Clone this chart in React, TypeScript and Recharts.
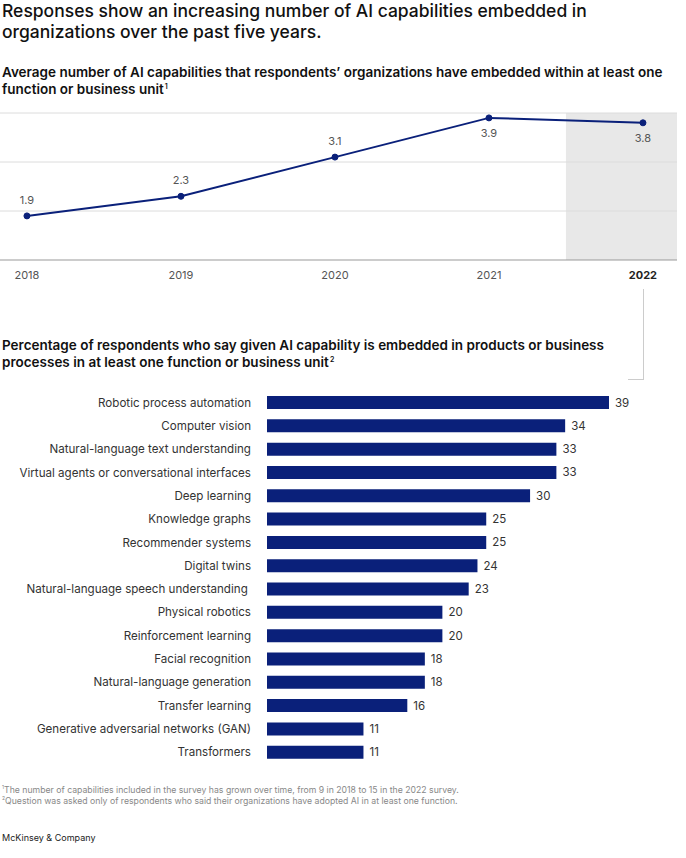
import React from "react";
import {
  LineChart, Line, XAxis, YAxis, ReferenceArea, ReferenceLine, LabelList,
  BarChart, Bar,
} from "recharts";

const years = [2018, 2019, 2020, 2021, 2022];
const avgCapabilities = [1.9, 2.3, 3.1, 3.9, 3.8];
const yGridValues = [2, 3, 4];

const capabilities = [
  "Robotic process automation",
  "Computer vision",
  "Natural-language text understanding",
  "Virtual agents or conversational interfaces",
  "Deep learning",
  "Knowledge graphs",
  "Recommender systems",
  "Digital twins",
  "Natural-language speech understanding ",
  "Physical robotics",
  "Reinforcement learning",
  "Facial recognition",
  "Natural-language generation",
  "Transfer learning",
  "Generative adversarial networks (GAN)",
  "Transformers",
];
const capabilityShares = [39, 34, 33, 33, 30, 25, 25, 24, 23, 20, 20, 18, 18, 16, 11, 11];

const lineData = years.map((y, i) => ({ year: y, value: avgCapabilities[i] }));
const barData = capabilities.map((c, i) => ({ name: c, value: capabilityShares[i] }));

const FONT = "Inter, 'Liberation Sans', Arial, sans-serif";
const NAVY = "#0a207a";

const YearTick = (props: any) => {
  const { x, y, payload } = props;
  const bold = payload.value === 2022;
  return (
    <text x={x} y={y + 11} textAnchor="middle" fontFamily={FONT} fontSize={11}
      fontWeight={bold ? 700 : 400} fill={bold ? "#222" : "#555"}>
      {payload.value}
    </text>
  );
};

const PointLabel = (props: any) => {
  const { x, y, value, index } = props;
  const below = index >= 3;
  return (
    <text x={x} y={below ? y + 19 : y - 12} textAnchor="middle" fontFamily={FONT}
      fontSize={11} fill="#555">
      {Number(value).toFixed(1)}
    </text>
  );
};

const CatTick = (props: any) => {
  const { x, y, payload } = props;
  return (
    <text x={x - 8} y={y + 4} textAnchor="end" fontFamily={FONT} fontSize={11.6} fill="#333"
      style={{ whiteSpace: "pre" }}>
      {payload.value}
    </text>
  );
};

const ValueLabel = (props: any) => {
  const { x, y, width, height, value } = props;
  return (
    <text x={x + width + 6} y={y + height / 2 + 4} fontFamily={FONT} fontSize={11.5} fill="#333">
      {value}
    </text>
  );
};

const supStyle = { fontSize: 7, marginLeft: 1, lineHeight: 0 } as const;

export default function App() {
  return (
    <div style={{ position: "absolute", left: 0, top: 0, width: 686, height: 858, background: "#fff", fontFamily: FONT }}>
      <div style={{ position: "absolute", left: 2, top: 0, width: 640, fontSize: 17.5, fontWeight: 500, lineHeight: "21px", color: "#111" }}>
        Responses show an increasing number of AI capabilities embedded in organizations over the past five years.
      </div>
      <div style={{ position: "absolute", left: 2, top: 64, width: 680, fontSize: 13.5, fontWeight: 600, lineHeight: "17px", color: "#111" }}>
        Average number of AI capabilities that respondents’ organizations have embedded within at least one function or business unit<sup style={supStyle}>1</sup>
      </div>

      <div style={{ position: "absolute", left: 0, top: 100 }}>
        <LineChart width={686} height={190} data={lineData} margin={{ top: 13, right: 9, left: 0, bottom: 0 }}>
          <ReferenceArea x1={2021.5} x2={2022.221} y1={1} y2={4} fill="#e8e8e8" fillOpacity={1} stroke="none" ifOverflow="hidden" />
          {yGridValues.map((v) => (
            <ReferenceLine key={v} y={v} stroke="#dcdcdc" strokeWidth={1} />
          ))}
          <XAxis dataKey="year" type="number" domain={[2017.825, 2022.221]} ticks={years}
            allowDataOverflow tickLine={false} axisLine={{ stroke: "#999" }} tick={<YearTick />} height={30} />
          <YAxis hide domain={[1, 4]} type="number" allowDataOverflow />
          <Line dataKey="value" stroke={NAVY} strokeWidth={2} isAnimationActive={false}
            dot={{ r: 3, fill: NAVY, stroke: NAVY, strokeWidth: 1 }}>
            <LabelList dataKey="value" content={<PointLabel />} />
          </Line>
        </LineChart>
      </div>

      <div style={{ position: "absolute", left: 643, top: 289, width: 1, height: 91, background: "#ccc" }} />
      <div style={{ position: "absolute", left: 628, top: 379, width: 15, height: 1, background: "#ccc" }} />

      <div style={{ position: "absolute", left: 2, top: 337, width: 640, fontSize: 13.5, fontWeight: 600, lineHeight: "17px", color: "#111" }}>
        Percentage of respondents who say given AI capability is embedded in products or business processes in at least one function or business unit<sup style={supStyle}>2</sup>
      </div>

      <div style={{ position: "absolute", left: 0, top: 391 }}>
        <BarChart width={686} height={373} data={barData} layout="vertical"
          margin={{ top: 0, right: 77, left: 0, bottom: 0 }} barCategoryGap={5}>
          <XAxis type="number" hide domain={[0, 39]} />
          <YAxis type="category" dataKey="name" width={267} axisLine={false} tickLine={false} tick={<CatTick />} interval={0} />
          <Bar dataKey="value" fill={NAVY} isAnimationActive={false}>
            <LabelList dataKey="value" content={<ValueLabel />} />
          </Bar>
        </BarChart>
      </div>

      <div style={{ position: "absolute", left: 2, top: 785, fontSize: 8.7, lineHeight: "10.5px", color: "#888" }}>
        <div><sup style={{ fontSize: 5, lineHeight: 0 }}>1</sup>The number of capabilities included in the survey has grown over time, from 9 in 2018 to 15 in the 2022 survey.</div>
        <div><sup style={{ fontSize: 5, lineHeight: 0 }}>2</sup>Question was asked only of respondents who said their organizations have adopted AI in at least one function.</div>
      </div>
      <div style={{ position: "absolute", left: 2, top: 832, fontSize: 9, color: "#222" }}>McKinsey &amp; Company</div>
    </div>
  );
}
